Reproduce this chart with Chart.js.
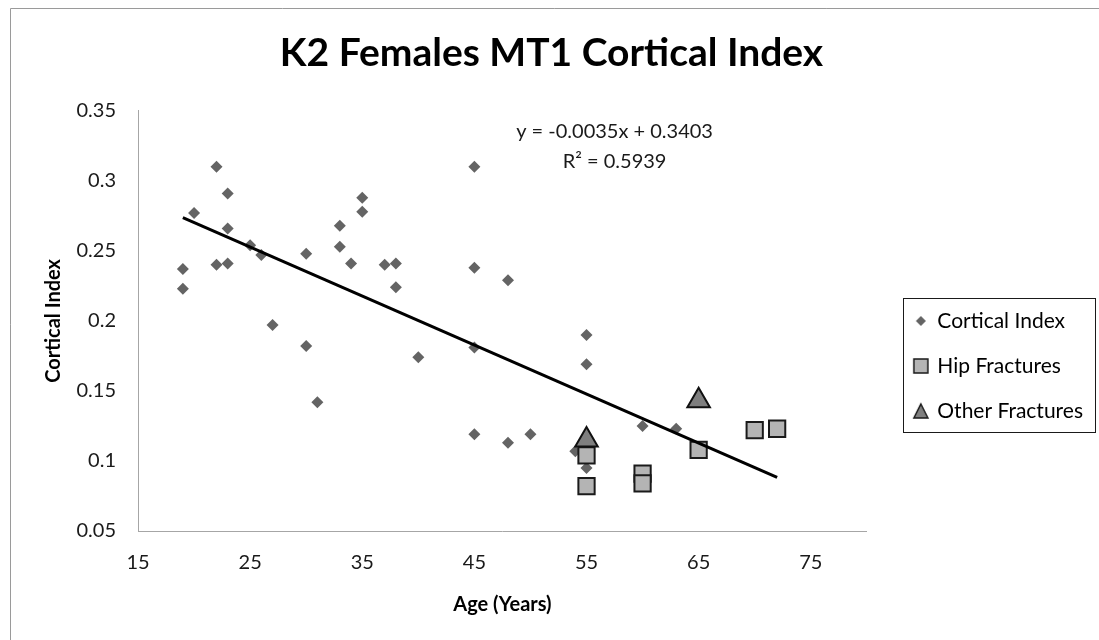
<!DOCTYPE html>
<html>
<head>
<meta charset="utf-8">
<script src="https://cdn.jsdelivr.net/npm/chart.js@4.4.1/dist/chart.umd.min.js"></script>
<style>
  html, body { margin: 0; padding: 0; background: #fff; }
  #wrap { width: 1099px; height: 640px; }
</style>
</head>
<body>
<div id="wrap"><canvas id="k2Chart" width="1099" height="640"></canvas></div>
<script>
// values
const corticalAge = [19, 19, 20, 22, 22, 23, 23, 23, 25, 26, 27, 30, 30, 31, 33, 33, 34, 35, 35, 37,
                     38, 38, 40, 45, 45, 45, 45, 48, 48, 50, 54, 55, 55, 55, 60, 63];
const corticalIndex = [0.237, 0.223, 0.277, 0.31, 0.24, 0.291, 0.266, 0.241, 0.254, 0.247, 0.197, 0.248, 0.182, 0.142, 0.268, 0.253, 0.241, 0.288, 0.278, 0.24,
                       0.241, 0.224, 0.174, 0.31, 0.238, 0.181, 0.119, 0.229, 0.113, 0.119, 0.107, 0.19, 0.169, 0.095, 0.125, 0.123];
const hipAge = [55, 55, 60, 60, 65, 70, 72];
const hipIndex = [0.104, 0.082, 0.091, 0.084, 0.108, 0.122, 0.123];
const otherAge = [55, 65];
const otherIndex = [0.115, 0.143];

// trendline as printed on the chart
const trendSlope = -0.0035;
const trendIntercept = 0.3403;
const trendLabel = ['y = -0.0035x + 0.3403', 'R\u00b2 = 0.5939'];

const xTickValues = [15, 25, 35, 45, 55, 65, 75];
const yTickValues = [0.05, 0.1, 0.15, 0.2, 0.25, 0.3, 0.35];
const yTickLabels = ['0.05', '0.1', '0.15', '0.2', '0.25', '0.3', '0.35'];

const toPoints = (xs, ys) => xs.map((x, i) => ({ x: x, y: ys[i] }));

const allAges = corticalAge.concat(hipAge, otherAge);
const trendX = [Math.min(...allAges), Math.max(...allAges)];
const trendY = trendX.map(x => trendSlope * x + trendIntercept);

const FONT = 'Lato, "Open Sans", sans-serif';
const ink = '#1a1a1a';

// small legend icons (Excel draws them at their own sizes)
function makeMarker(shape, size, fill, stroke) {
    const cv = document.createElement('canvas');
    cv.width = cv.height = size + 4;
    const g = cv.getContext('2d');
    const m = (size + 4) / 2, h = size / 2;
    g.fillStyle = fill;
    g.beginPath();
    if (shape === 'diamond') {
        g.moveTo(m, m - h); g.lineTo(m + h, m); g.lineTo(m, m + h); g.lineTo(m - h, m);
    } else if (shape === 'square') {
        g.rect(m - h, m - h, size, size);
    } else {
        g.moveTo(m, m - h); g.lineTo(m + h, m + h); g.lineTo(m - h, m + h);
    }
    g.closePath();
    g.fill();
    if (stroke) {
        g.strokeStyle = stroke;
        g.lineWidth = 1.5;
        g.stroke();
    }
    return cv;
}
const legendIcons = [
    makeMarker('diamond', 10, '#646464', null),
    makeMarker('square', 14, '#b4b4b4', '#1a1a1a'),
    makeMarker('triangle', 14, '#7f7f7f', '#1a1a1a')
];

// frame, legend box and trendline equation
const extras = {
    id: 'extras',
    beforeDraw(chart) {
        const c = chart.ctx;
        c.save();
        c.fillStyle = '#fff';
        c.fillRect(0, 0, chart.width, chart.height);
        c.strokeStyle = '#9a9a9a';
        c.lineWidth = 1;
        c.beginPath();
        c.moveTo(10.5, chart.height);
        c.lineTo(10.5, 8.5);
        c.lineTo(chart.width, 8.5);
        c.stroke();
        c.restore();
    },
    afterDraw(chart) {
        const c = chart.ctx;
        const boxes = chart.legend.legendHitBoxes;
        if (boxes && boxes.length) {
            const l = Math.min(...boxes.map(b => b.left)) - 11.5;
            const t = Math.min(...boxes.map(b => b.top)) - 12.5;
            const r = Math.max(...boxes.map(b => b.left + b.width)) + 12;
            const btm = Math.max(...boxes.map(b => b.top + b.height)) + 10.5;
            c.save();
            c.strokeStyle = '#1a1a1a';
            c.lineWidth = 1;
            c.strokeRect(Math.round(l) + 0.5, Math.round(t) + 0.5, Math.round(r - l), Math.round(btm - t));
            c.restore();
        }
        const xs = chart.scales.x, ys = chart.scales.y;
        c.save();
        c.fillStyle = ink;
        c.font = '20px ' + FONT;
        c.textAlign = 'center';
        c.textBaseline = 'middle';
        c.fillText(trendLabel[0], xs.getPixelForValue(57.5), ys.getPixelForValue(0.335));
        c.fillText(trendLabel[1], xs.getPixelForValue(57.5), ys.getPixelForValue(0.314));
        c.restore();
    }
};

const ctx = document.getElementById('k2Chart').getContext('2d');
const k2Chart = new Chart(ctx, {
    type: 'scatter',
    data: {
        datasets: [
            {
                label: 'Cortical Index',
                data: toPoints(corticalAge, corticalIndex),
                pointStyle: 'rectRot',
                pointRadius: 6,
                backgroundColor: '#646464',
                borderColor: '#646464',
                borderWidth: 0,
                order: 3
            },
            {
                label: 'Hip Fractures',
                data: toPoints(hipAge, hipIndex),
                pointStyle: 'rect',
                pointRadius: 11.5,
                backgroundColor: '#b4b4b4',
                borderColor: '#1a1a1a',
                borderWidth: 2,
                order: 2
            },
            {
                label: 'Other Fractures',
                data: toPoints(otherAge, otherIndex),
                pointStyle: 'triangle',
                pointRadius: 13,
                backgroundColor: '#7f7f7f',
                borderColor: '#111',
                borderWidth: 2,
                order: 1
            },
            {
                label: 'trend',
                type: 'line',
                data: toPoints(trendX, trendY),
                showLine: true,
                pointRadius: 0,
                borderColor: '#000',
                borderWidth: 3,
                order: 0
            }
        ]
    },
    options: {
        responsive: false,
        animation: false,
        layout: { padding: { left: 10, right: 6, top: 10, bottom: 10 } },
        plugins: {
            tooltip: { enabled: false },
            title: {
                display: true,
                text: 'K2 Females MT1 Cortical Index',
                color: '#000',
                font: { family: FONT, size: 39, weight: 'bold' },
                padding: { top: 20, bottom: 34 }
            },
            legend: {
                position: 'right',
                title: { display: true, text: ' ', font: { size: 10 }, padding: { top: 0, bottom: 80 } },
                labels: {
                    usePointStyle: true,
                    boxHeight: 12,
                    pointStyleWidth: 12,
                    color: '#000',
                    font: { family: FONT, size: 21 },
                    padding: 24,
                    generateLabels: chart => Chart.defaults.plugins.legend.labels.generateLabels(chart)
                        .filter(item => item.text !== 'trend')
                        .map(item => Object.assign(item, { pointStyle: legendIcons[item.datasetIndex] })),
                    sort: (a, b) => a.datasetIndex - b.datasetIndex
                }
            }
        },
        scales: {
            x: {
                type: 'linear',
                min: 15,
                max: 80,
                afterFit: scale => { scale.height = 99; },
                afterBuildTicks: scale => { scale.ticks = xTickValues.map(v => ({ value: v })); },
                grid: { drawOnChartArea: false, drawTicks: false },
                border: { display: true, color: '#a6a6a6', width: 1 },
                ticks: { padding: 20, color: ink, font: { family: FONT, size: 20 } },
                title: {
                    display: true,
                    text: 'Age (Years)',
                    color: '#000',
                    font: { family: FONT, size: 20, weight: 'bold' },
                    padding: { top: 0, bottom: 13 }
                }
            },
            y: {
                type: 'linear',
                min: 0.05,
                max: 0.35,
                afterFit: scale => { scale.width = 128; },
                afterBuildTicks: scale => { scale.ticks = yTickValues.map(v => ({ value: v })); },
                grid: { drawOnChartArea: false, drawTicks: false },
                border: { display: true, color: '#a6a6a6', width: 1 },
                ticks: {
                    padding: 22,
                    color: ink,
                    font: { family: FONT, size: 20 },
                    callback: (v, i) => yTickLabels[i]
                },
                title: {
                    display: true,
                    text: 'Cortical Index',
                    color: '#000',
                    font: { family: FONT, size: 20, weight: 'bold' },
                    padding: { top: 32, bottom: 0 }
                }
            },
            // hidden right-hand axis: only keeps the gap between plot and legend
            gap: {
                type: 'linear',
                position: 'right',
                display: false,
                afterFit: scale => { scale.width = 24; }
            }
        }
    },
    plugins: [extras]
});
</script>
</body>
</html>
